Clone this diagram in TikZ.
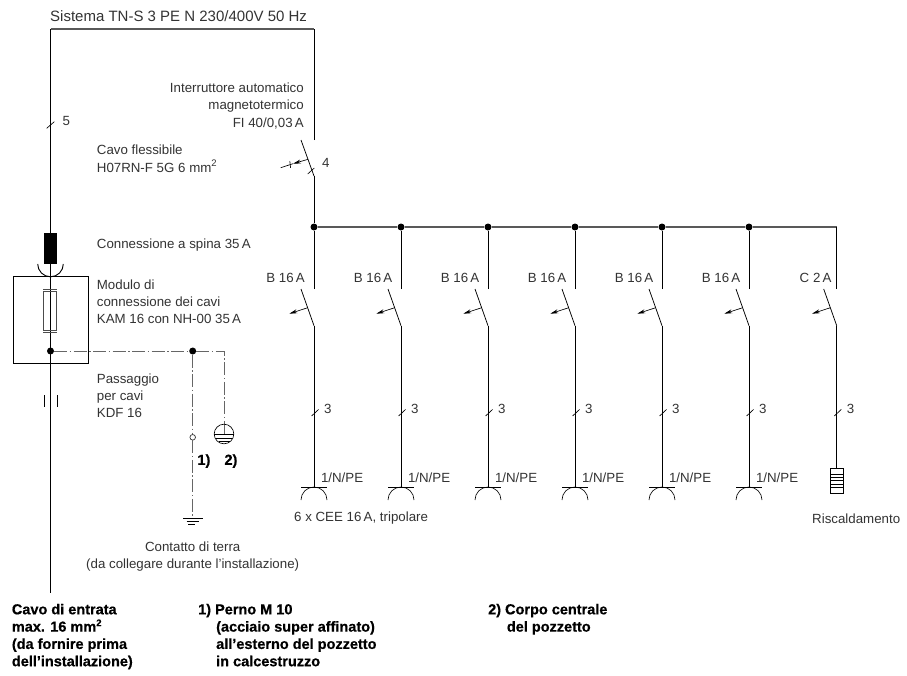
\documentclass[tikz,border=0pt]{standalone}
\usepackage{fontspec}
\setmainfont{Liberation Sans}[BoldFeatures={FakeBold=0.5}]
\usetikzlibrary{arrows.meta}
\newcommand{\supnum}{\smash{\raisebox{5.5pt}{\fontsize{9.5}{9.5}\selectfont 2}}}
\tikzset{
 x=1pt,y=-1pt,
 wire/.style={line width=0.9pt,black},
 busline/.style={line width=1.1pt,black!65},
 fine/.style={line width=0.65pt,black},
 earthline/.style={line width=0.9pt,black!60,dash pattern=on 13pt off 2.5pt on 1.5pt off 2.5pt},
 lbl/.style={font=\fontsize{13.3}{17.1}\selectfont,text=black!80,inner sep=0pt,align=left,anchor=west},
 lbr/.style={lbl,align=right,anchor=east},
 lbc/.style={lbl,align=center,anchor=center},
 note/.style={font=\fontsize{14.5}{17.3}\selectfont\bfseries,text=black,inner sep=0pt,align=left,anchor=north west},
 dotn/.style={circle,fill=black,inner sep=0pt,minimum size=7pt},
 ring/.style={circle,draw=black!80,line width=0.7pt,fill=white,inner sep=0pt,minimum size=5.6pt},
 trip/.style={fine,-{Stealth[length=8pt,width=4pt]}},
}
\newcommand{\branch}[5]{% x, name, label, offset, start
  \coordinate (#2top) at (#1,289);
  \coordinate (#2blade) at (#1-13,289);
  \coordinate (#2low) at (#1,325.7);
  \coordinate (#2a) at (#1-6.3,307.7);
  \coordinate (#2b) at (#1-24.7,313.7);
  \coordinate (#2t1) at (#1-2.4,416);
  \coordinate (#2t2) at (#1+4.6,409.4);
  \draw[wire] (#2top) -- (#5);
  \draw[fine,line width=0.75pt] (#2blade) -- (#2low);
  \draw[trip] (#2a) -- (#2b);
  \draw[fine] (#2t1) -- (#2t2);
  \node[lbl] (#2n) at (#1+10,409) {3};
  \node[lbr] (#2l) at (#1-#4,278) {#3};
}
\newcommand{\sock}[2]{% x, name
  \coordinate (#2h1) at (#1-13,487);
  \coordinate (#2h2) at (#1+13,487);
  \coordinate (#2c) at (#1,487);
  \coordinate (#2s) at (#1,325.7);
  \draw[wire] (#2s) -- (#2c);
  \draw[fine] (#2h1) -- (#2h2);
  \draw[fine] (#1-13,500) arc[start angle=180,end angle=0,radius=13,y radius=-13];
  \node[lbl] (#2pe) at (#1+6.8,477.3) {1/N/PE};
}
\begin{document}
\begin{tikzpicture}
\useasboundingbox (0,0) rectangle (907,675);
\fill[white] (0,0) rectangle (907,675);
\node[lbl,font=\fontsize{15}{17}\selectfont] (title) at (50,16.5) {Sistema TN-S 3 PE N 230/400V 50 Hz};
% main feed
\coordinate (ftop) at (50.5,29);
\coordinate (ftopr) at (314,29);
\coordinate (fbot) at (50.5,592.7);
\coordinate (qtop) at (314,140);
\coordinate (qblade) at (301,140);
\coordinate (qend) at (314,176);
\node[dotn] (bus0) at (314,227) {};
\draw[busline] (ftop) -- (ftopr);
\draw[wire] (qtop) -- (ftopr);
\draw[wire] (ftop) -- (fbot);
\draw[fine,line width=0.75pt] (qblade) -- (qend);
\draw[wire] (qend) -- (bus0);
% main breaker trip
\coordinate (qa) at (308,159.3);
\coordinate (qb) at (293,163.7);
\coordinate (qc) at (280.7,167.7);
\draw[trip] (qa) -- (qb);
\draw[fine] (qb) -- (qc);
\draw[fine] (289.8,161) -- (290.6,167.8);
\draw[fine] (307.7,174) -- (314.3,168);
\draw[fine] (46.7,128.3) -- (54.3,121.7);
\node[lbl] (n5) at (62.5,121) {5};
\node[lbl] (n4) at (322,162.7) {4};
% labels
\node[lbr] (lint) at (304,106) {Interruttore automatico\\magnetotermico\\FI 40/0,03\,A};
\node[lbl] (lcav) at (96.7,150) {Cavo flessibile};
\node[lbl] (lh07) at (96.7,167.5) {H07RN-F 5G 6 mm\supnum};
\node[lbl] (lcon) at (96.7,245) {Connessione a spina 35\,A};
\node[lbl] (lmod) at (96.7,302) {Modulo di\\connessione dei cavi\\KAM 16 con NH-00 35\,A};
\node[lbl] (lpas) at (96.7,396) {Passaggio\\per cavi\\KDF 16};
\node[lbc] (lter) at (192.7,556.8) {Contatto di terra\\(da collegare durante l'installazione)};
% plug + module
\node[fill=black,inner sep=0pt,minimum width=13.3pt,minimum height=31.6pt] (plug) at (50.6,248.5) {};
\draw[wire] (37.7,264) arc[start angle=180,end angle=360,radius=12.8,y radius=-12.8];
\draw[wire] (13.3,276.7) rectangle (88,363.3);
\draw[fine,black!70] (43.3,291.7) rectangle (56.7,330.7);
\draw[fine,black!70] (43.3,289.3) -- (56.7,289.3) (43.3,332.7) -- (56.7,332.7);
\node[dotn] (d1) at (50.5,351) {};
\node[dotn] (d2) at (192.7,351) {};
\coordinate (ec) at (224,351);
\draw[earthline] (d1) -- (d2);
\draw[earthline] (d2) -- (ec) -- (224,434);
\node[ring] (r1) at (192.7,437.3) {};
\coordinate (eg) at (192.7,518.3);
\draw[earthline] (d2) -- (r1);
\draw[earthline] (r1) -- (eg);
\draw[fine] (183,518.3) -- (202.7,518.3);
\draw[fine] (186.7,521.3) -- (198.7,521.3);
\draw[fine] (188.4,524.3) -- (195,524.3);
% earth circle
\draw[fine] (224,434) circle[radius=9.8];
\draw[fine] (214.2,434) -- (233.8,434);
\draw[fine] (216,438) -- (232,438);
\draw[fine] (218.5,441.5) -- (229.5,441.5);
\node[note,anchor=west] (n1) at (197.3,461) {1)};
\node[note,anchor=west] (n2) at (224.3,461) {2)};
% passage
\draw[fine] (44.3,395) -- (44.3,407.3);
\draw[fine] (57.3,395) -- (57.3,407.3);
% bus
\coordinate (busend) at (836.7,227);
\node[dotn] (b1) at (401,227) {};
\node[dotn] (b2) at (488,227) {};
\node[dotn] (b3) at (575,227) {};
\node[dotn] (b4) at (662,227) {};
\node[dotn] (b5) at (749,227) {};
\draw[busline] (bus0) -- (b1) -- (b2) -- (b3) -- (b4) -- (b5) -- (busend);
\branch{314}{ba}{B 16\,A}{9}{bus0}
\branch{401}{bb}{B 16\,A}{8.5}{b1}
\branch{488}{bc}{B 16\,A}{8.5}{b2}
\branch{575}{bd}{B 16\,A}{8.5}{b3}
\branch{662}{be}{B 16\,A}{8.5}{b4}
\branch{749}{bf}{B 16\,A}{8.5}{b5}
\branch{836.7}{bg}{C 2\,A}{5}{busend}
\sock{314}{sa}\sock{401}{sb}\sock{488}{sc}\sock{575}{sd}\sock{662}{se}\sock{749}{sf}
% heater
\coordinate (hs) at (836.7,325.7);
\coordinate (he) at (836.7,468.3);
\draw[wire] (hs) -- (he);
\draw[fine,line width=0.8pt] (830.3,468.3) rectangle (843.7,493.3);
\foreach \yy in {474.3,477.5,480.7,484,487.3}{\draw[fine,line width=0.7pt] (830.3,\yy) -- (843.7,\yy);}
\node[lbl] (lh) at (812,518.3) {Riscaldamento};
\node[lbl] (l6) at (294,518.3) {6 x CEE 16\,A, tripolare};
% notes
\node[note] (na) at (11.7,603.6) {Cavo di entrata\\max. 16 mm\supnum\\(da fornire prima\\dell’installazione)};
\node[note] (nb) at (198,603.6) {1) Perno M 10\\\hspace*{18pt}(acciaio super affinato)\\\hspace*{18pt}all’esterno del pozzetto\\\hspace*{18pt}in calcestruzzo};
\node[note] (nc) at (488,603.6) {2) Corpo centrale\\\hspace*{18.7pt}del pozzetto};
\end{tikzpicture}
\end{document}
